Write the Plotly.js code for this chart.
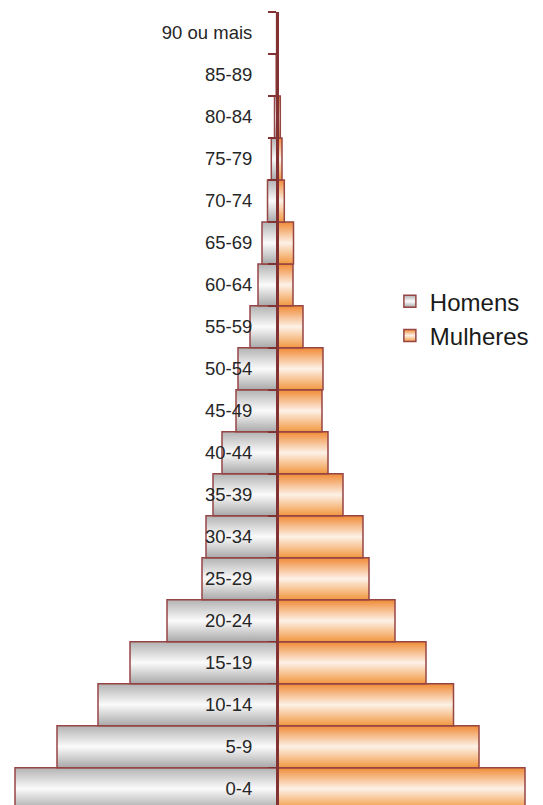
<!DOCTYPE html>
<html>
<head>
<meta charset="utf-8">
<script src="https://cdn.plot.ly/plotly-3.0.1.min.js"></script>
<style>
  html, body { margin: 0; padding: 0; background: #fff; overflow: hidden; }
  #chart { width: 543px; height: 805px; }
  .barlayer .trace:nth-of-type(1) path { fill: url(#gradH) !important; }
  .barlayer .trace:nth-of-type(2) path { fill: url(#gradM) !important; }
  .legend .traces:nth-of-type(1) .legendpoints path { fill: url(#gradH) !important; }
  .legend .traces:nth-of-type(2) .legendpoints path { fill: url(#gradM) !important; }
</style>
</head>
<body>
<svg width="0" height="0" style="position:absolute">
  <defs>
    <linearGradient id="gradH" x1="0" y1="0" x2="0" y2="1">
      <stop offset="0" stop-color="#b2b2b2"/>
      <stop offset="0.5" stop-color="#fbfbfb"/>
      <stop offset="1" stop-color="#a8a8a8"/>
    </linearGradient>
    <linearGradient id="gradM" x1="0" y1="0" x2="0" y2="1">
      <stop offset="0" stop-color="#f08a35"/>
      <stop offset="0.5" stop-color="#fdf1e7"/>
      <stop offset="1" stop-color="#f2973f"/>
    </linearGradient>
  </defs>
</svg>
<div id="chart"></div>
<script>
const ages = ['0-4','5-9','10-14','15-19','20-24','25-29','30-34','35-39','40-44','45-49','50-54','55-59','60-64','65-69','70-74','75-79','80-84','85-89','90 ou mais'];
const homens = [262, 220, 179, 147, 110, 75, 71, 64, 55, 41, 39, 27, 19, 15, 9.5, 5.7, 2.5, 0.8, 0.4];
const mulheres = [248, 202, 176.5, 149, 118, 92, 86, 66, 51, 45, 46, 26, 16, 16.5, 7.3, 5, 3.3, 0.8, 0.4];
const seriesNames = ['Homens', 'Mulheres'];

const edge = 'rgb(150,68,68)';

const traces = [
  {
    type: 'bar', orientation: 'h', name: seriesNames[0],
    y: ages, x: homens.map(v => -v),
    marker: { color: '#d8d8d8', line: { color: edge, width: 1.5 } },
    hoverinfo: 'skip'
  },
  {
    type: 'bar', orientation: 'h', name: seriesNames[1],
    y: ages, x: mulheres,
    marker: { color: '#f6b883', line: { color: edge, width: 1.5 } },
    hoverinfo: 'skip'
  }
];

const layout = {
  width: 543, height: 805,
  margin: { l: 0, r: 0, t: 12, b: 0, pad: 0 },
  paper_bgcolor: '#ffffff', plot_bgcolor: '#ffffff',
  barmode: 'relative', bargap: 0,
  showlegend: true,
  legend: {
    x: 0.718, xanchor: 'left', y: 0.663, yanchor: 'top',
    bgcolor: 'rgba(0,0,0,0)',
    font: { family: 'Liberation Sans, Arial, sans-serif', size: 24, color: '#1a1a1a' },
    traceorder: 'normal', itemwidth: 30
  },
  xaxis: {
    range: [-277, 266], visible: false, showgrid: false, zeroline: false, fixedrange: true
  },
  yaxis: {
    type: 'category', categoryorder: 'array', categoryarray: ages,
    range: [-0.39, 18.5],
    anchor: 'free', position: 277 / 543,
    showline: true, linecolor: 'rgb(130,50,50)', linewidth: 2.5,
    ticks: 'outside', tickson: 'boundaries', ticklen: 8, tickwidth: 1.5, tickcolor: 'rgb(130,50,50)',
    ticklabelstandoff: 20,
    tickfont: { family: 'Liberation Sans, Arial, sans-serif', size: 18.5, color: '#262626' },
    showgrid: false, zeroline: false, automargin: false, fixedrange: true
  }
};

Plotly.newPlot('chart', traces, layout, { staticPlot: true, displayModeBar: false });
</script>
</body>
</html>
